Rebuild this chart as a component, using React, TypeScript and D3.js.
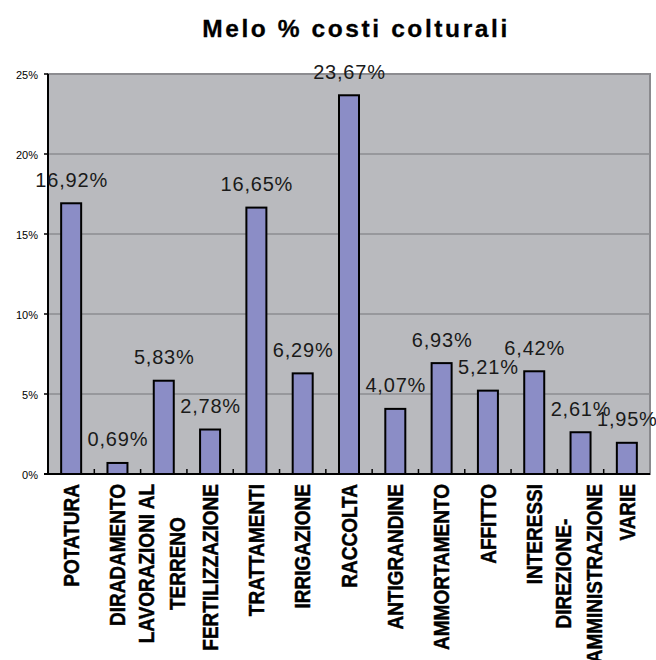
import React, { useEffect, useRef } from "react";
import * as d3 from "d3";

const categories: string[][] = [
  ["POTATURA"],
  ["DIRADAMENTO"],
  ["LAVORAZIONI AL", "TERRENO"],
  ["FERTILIZZAZIONE"],
  ["TRATTAMENTI"],
  ["IRRIGAZIONE"],
  ["RACCOLTA"],
  ["ANTIGRANDINE"],
  ["AMMORTAMENTO"],
  ["AFFITTO"],
  ["INTERESSI"],
  ["DIREZIONE-", "AMMINISTRAZIONE"],
  ["VARIE"],
];
const values: number[] = [16.92, 0.69, 5.83, 2.78, 16.65, 6.29, 23.67, 4.07, 6.93, 5.21, 6.42, 2.61, 1.95];
const yTicks: number[] = [0, 5, 10, 15, 20, 25];
const title = "Melo % costi colturali";

const W = 656;
const H = 660;
const M = { left: 48, right: 6, top: 74, bottom: 186 };

export default function App() {
  const ref = useRef<SVGSVGElement>(null);

  useEffect(() => {
    const svg = d3.select(ref.current);
    svg.selectAll("*").remove();
    const x0 = M.left, x1 = W - M.right, y0 = H - M.bottom, y1 = M.top;
    const idx = categories.map((_, i) => String(i));
    const x = d3.scaleBand<string>().domain(idx).range([x0, x1]);
    const y = d3.scaleLinear().domain([0, 25]).range([y0, y1]);
    const font = "'Liberation Sans', Arimo, sans-serif";

    svg.append("rect").attr("width", W).attr("height", H).attr("fill", "#ffffff");

    // title
    svg.append("text")
      .attr("x", 356).attr("y", 37)
      .attr("text-anchor", "middle")
      .attr("font-family", font).attr("font-weight", "bold")
      .attr("font-size", 24.5).attr("letter-spacing", 2.6)
      .attr("fill", "#000").attr("stroke", "#000").attr("stroke-width", 0.3)
      .text(title);

    // plot background
    svg.append("rect")
      .attr("x", x0).attr("y", y1).attr("width", x1 - x0).attr("height", y0 - y1)
      .attr("fill", "#b9babe").attr("stroke", "#8a8a8e").attr("stroke-width", 2);

    // grid
    svg.append("g").selectAll("line").data(yTicks.filter(t => t > 0)).join("line")
      .attr("x1", x0).attr("x2", x1)
      .attr("y1", d => y(d)).attr("y2", d => y(d))
      .attr("stroke", "#8c8c90").attr("stroke-width", 1.3);

    // y axis labels and ticks
    const yg = svg.append("g");
    yg.selectAll("line").data(yTicks).join("line")
      .attr("x1", x0 - 4).attr("x2", x0)
      .attr("y1", d => y(d)).attr("y2", d => y(d))
      .attr("stroke", "#000").attr("stroke-width", 1.5);
    yg.selectAll("text").data(yTicks).join("text")
      .attr("x", 38).attr("y", d => y(d) + 5)
      .attr("text-anchor", "end")
      .attr("font-family", font).attr("font-size", 11)
      .attr("fill", "#000").text(d => `${d}%`);

    // bars
    const bw = 20;
    svg.append("g").selectAll("rect").data(values).join("rect")
      .attr("x", (_, i) => x(String(i))! + x.bandwidth() / 2 - bw / 2)
      .attr("y", d => y(d))
      .attr("width", bw)
      .attr("height", d => y0 - y(d))
      .attr("fill", "#8b8dc6").attr("stroke", "#000").attr("stroke-width", 2);

    // x ticks at band boundaries
    const bounds = d3.range(1, categories.length).map(i => x(String(i))!);
    svg.append("g").selectAll("line").data(bounds).join("line")
      .attr("x1", d => d).attr("x2", d => d)
      .attr("y1", y0).attr("y2", y0 - 5)
      .attr("stroke", "#000").attr("stroke-width", 1.5);

    // axes lines
    svg.append("line").attr("x1", x0).attr("x2", x0).attr("y1", y1).attr("y2", y0 + 1)
      .attr("stroke", "#000").attr("stroke-width", 2);
    svg.append("line").attr("x1", x0 - 4).attr("x2", x1).attr("y1", y0).attr("y2", y0)
      .attr("stroke", "#000").attr("stroke-width", 2);

    // value labels
    svg.append("g").selectAll("text").data(values).join("text")
      .attr("x", (_, i) => x(String(i))! + x.bandwidth() / 2 + 0.5)
      .attr("y", d => y(d) - 16.5)
      .attr("text-anchor", "middle")
      .attr("font-family", font).attr("font-size", 20).attr("letter-spacing", 0.8)
      .attr("fill", "#1a1a1a")
      .text(d => d.toFixed(2).replace(".", ",") + "%");

    // category labels
    const lineGap = 28;
    categories.forEach((lines, i) => {
      const cx = x(String(i))! + x.bandwidth() / 2;
      const g = svg.append("g").attr("transform", `translate(${cx},484) rotate(-90) scale(1,1.12)`);
      const texts = lines.map((ln, j) =>
        g.append("text")
          .attr("y", (j - (lines.length - 1) / 2) * lineGap - (lines.length > 1 ? 1.5 : 0))
          .attr("dy", "0.36em")
          .attr("text-anchor", "middle")
          .attr("font-family", font).attr("font-weight", "bold").attr("font-size", 19)
          .attr("fill", "#000").attr("stroke", "#000").attr("stroke-width", 0.4)
          .text(ln)
      );
      const maxLen = d3.max(texts, t => (t.node() as SVGTextElement).getComputedTextLength()) || 0;
      texts.forEach(t => t.attr("x", -maxLen / 2));
    });
  }, []);

  return (
    <svg ref={ref} width={W} height={H} style={{ display: "block", position: "absolute", left: 0, top: 0 }} />
  );
}
